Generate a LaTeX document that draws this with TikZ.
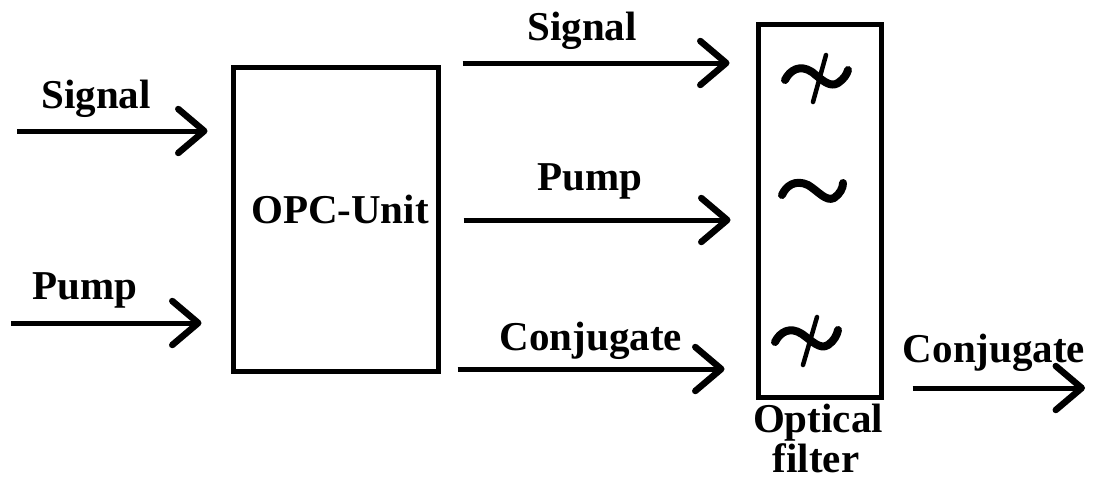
\documentclass[tikz,border=0pt]{standalone}
\usepackage{fontspec}
\setmainfont{Liberation Serif}
\usetikzlibrary{arrows.meta}
\tikzset{
  lbl/.style={inner sep=0pt, anchor=base, font=\fontsize{41}{41}\selectfont\bfseries},
  boxst/.style={draw, line width=5pt, inner sep=0pt},
  arr/.style={line width=5pt, -{Straight Barb[length=26pt,width=44pt,line width=6.5pt,line cap=round,line join=round]}},
  squig/.style={line width=8pt, line cap=round, line join=round},
  cross/.style={line width=4.5pt, line cap=round}
}
\begin{document}
\begin{tikzpicture}[x=1pt,y=-1pt]
\useasboundingbox (0,0) rectangle (1101,483);
% boxes
\node[boxst, minimum width=205pt, minimum height=304pt] (opc) at (335.5,219) {};
\node[boxst, minimum width=123pt, minimum height=373pt] (filt) at (819.5,210.5) {};
% labels
\node[lbl] (lsig) at (96,108) {Signal};
\node[lbl] (lpump) at (85,299) {Pump};
\node[lbl] (opctext) at (340,223) {OPC-Unit};
\node[lbl] (tsig) at (582,40) {Signal};
\node[lbl] (mpump) at (590,190) {Pump};
\node[lbl] (mconj) at (591,350) {Conjugate};
\node[lbl] (rconj) at (994,362) {Conjugate};
\node[lbl] (opt1) at (818,432) {Optical};
\node[lbl] (opt2) at (816,472) {filter};
% free ends
\coordinate (sigin) at (17,131);
\coordinate (pumpin) at (11,323);
\coordinate (outend) at (1085,388);
% input arrows
\draw[arr, shorten >=23pt] (sigin) -- (sigin -| opc.west);
\draw[arr, shorten >=29pt] (pumpin) -- (pumpin -| opc.west);
% middle arrows
\draw[arr, shorten <=22pt, shorten >=26pt] (opc.east |- 0,63) -- (filt.west |- 0,63);
\draw[arr, shorten <=23pt, shorten >=25pt] (opc.east |- 0,220) -- (filt.west |- 0,220);
\draw[arr, shorten <=17pt, shorten >=31pt] (opc.east |- 0,369) -- (filt.west |- 0,369);
% output arrow
\draw[arr, shorten <=29pt] (filt.east |- outend) -- (outend);
% filter symbols
\draw[squig] (785,80) .. controls (790,70) and (800,64) .. (812,72)
  .. controls (822,80) and (830,88) .. (838,83) .. controls (844,79) and (847,74) .. (848,70);
\draw[cross] (826,55) -- (813,102);
\draw[squig] (782,195) .. controls (786,186) and (795,179) .. (808,185)
  .. controls (818,191) and (826,202) .. (834,198) .. controls (840,194) and (843,188) .. (843,183);
\draw[squig] (775,342) .. controls (780,332) and (790,326) .. (802,334)
  .. controls (812,341) and (820,350) .. (828,345) .. controls (834,341) and (837,335) .. (838,330);
\draw[cross] (817,317) -- (803,365);
\end{tikzpicture}
\end{document}
